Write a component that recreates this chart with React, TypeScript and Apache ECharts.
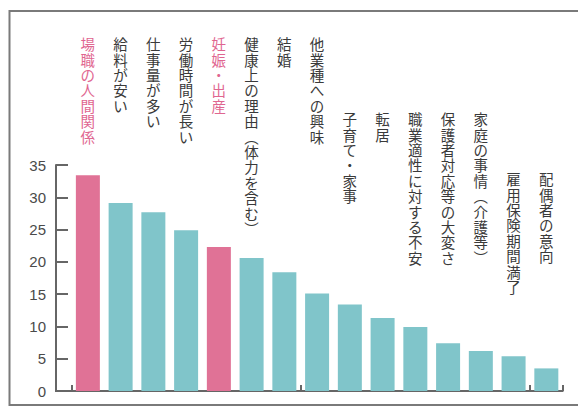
import React, { useEffect, useRef } from "react";
import * as echarts from "echarts";

const categories = [
  "場職の人間関係",
  "給料が安い",
  "仕事量が多い",
  "労働時間が長い",
  "妊娠・出産",
  "健康上の理由（体力を含む）",
  "結婚",
  "他業種への興味",
  "子育て・家事",
  "転居",
  "職業適性に対する不安",
  "保護者対応等の大変さ",
  "家庭の事情（介護等）",
  "雇用保険期間満了",
  "配偶者の意向",
];
const values = [33.4, 29.1, 27.7, 24.9, 22.3, 20.6, 18.4, 15.1, 13.4, 11.3, 9.9, 7.4, 6.2, 5.4, 3.5];
const highlighted = ["場職の人間関係", "妊娠・出産"];
const yTicks = [0, 5, 10, 15, 20, 25, 30, 35];

const PINK_BAR = "#E07296";
const TEAL_BAR = "#80C5CA";
const PINK_TEXT = "#DF6690";
const GRAY_TEXT = "#3a3a3a";
const AXIS = "#666666";

const toVertical = (s: string) =>
  Array.from(s.replace(/[（(]/g, "︵").replace(/[）)]/g, "︶")).join("\n");

// layout: which label tier (start height) each category label belongs to
const tierOf = (i: number) => (i < 8 ? 0 : i < 13 ? 1 : 2);
const GRID_TOP = 165;
const tierTops = [36, 111, 171];

export default function App() {
  const ref = useRef<HTMLDivElement>(null);
  useEffect(() => {
    if (!ref.current) return;
    const chart = echarts.init(ref.current, undefined, { renderer: "svg" });
    const topAxes = tierTops.map((top, t) => ({
      type: "category",
      data: categories,
      position: "top",
      offset: GRID_TOP - top,
      axisLine: { show: false },
      axisTick: { show: false },
      splitLine: { show: false },
      axisLabel: {
        interval: 0,
        margin: 0,
        verticalAlign: "top",
        align: "center",
        fontFamily: "Noto Sans CJK JP",
        fontSize: 14.5,
        lineHeight: 15.4,
        color: (v: string) => (highlighted.includes(v) ? PINK_TEXT : GRAY_TEXT),
        fontWeight: (v: string) => (highlighted.includes(v) ? 500 : 400),
        formatter: (v: string, i: number) => (tierOf(i) === t ? toVertical(v) : ""),
      },
    }));
    chart.setOption({
      animation: false,
      backgroundColor: "#ffffff",
      grid: {
        left: 71.5,
        right: 15.3,
        top: GRID_TOP,
        bottom: 16,
        containLabel: false,
        outerBoundsMode: "none",
      },
      xAxis: [
        {
          type: "category",
          data: categories,
          position: "bottom",
          axisLine: { show: true, lineStyle: { color: AXIS, width: 2 } },
          axisTick: { show: true, inside: true, length: 6, lineStyle: { color: AXIS, width: 2 } },
          axisLabel: { show: false },
          splitLine: { show: false },
        },
        ...topAxes,
      ],
      yAxis: {
        type: "value",
        min: yTicks[0],
        max: yTicks[yTicks.length - 1],
        interval: 5,
        offset: 15.5,
        axisLine: { show: true, lineStyle: { color: AXIS, width: 2 } },
        axisTick: { show: true, inside: true, length: 12, lineStyle: { color: AXIS, width: 2 } },
        splitLine: { show: false },
        axisLabel: {
          margin: 10,
          fontFamily: "Liberation Sans",
          fontSize: 15,
          color: "#4a4a4a",
        },
      },
      series: [
        {
          type: "bar",
          xAxisIndex: 0,
          barWidth: 24,
          data: values.map((v, i) => ({
            value: v,
            itemStyle: { color: highlighted.includes(categories[i]) ? PINK_BAR : TEAL_BAR },
          })),
        },
      ],
      graphic: [
        {
          type: "rect",
          shape: { x: 9.5, y: 11, width: 620, height: 394 },
          style: { fill: "none", stroke: "#7a7a7a", lineWidth: 2 },
          silent: true,
        },
        {
          type: "line",
          shape: { x1: 55, y1: 391, x2: 72, y2: 391 },
          style: { stroke: AXIS, lineWidth: 2 },
          silent: true,
        },
      ],
    });
    return () => chart.dispose();
  }, []);
  return (
    <div
      ref={ref}
      style={{ position: "fixed", left: 0, top: 0, width: 578, height: 407, background: "#fff" }}
    />
  );
}
